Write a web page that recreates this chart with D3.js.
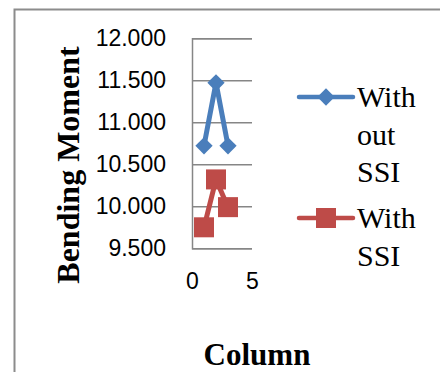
<!DOCTYPE html>
<html>
<head>
<meta charset="utf-8">
<script src="https://cdn.jsdelivr.net/npm/d3@7"></script>
<style>
  html, body { margin: 0; padding: 0; background: #fff; }
  svg { display: block; }
</style>
</head>
<body>
<svg id="chart" width="440" height="372"></svg>
<script>
// Column positions and bending moments for both cases
const columns = [1, 2, 3];
const withoutSSI = [10.72, 11.47, 10.72];
const withSSI = [9.75, 10.32, 9.99];
const yTicks = [9.5, 10.0, 10.5, 11.0, 11.5, 12.0];
const xTicks = [0, 5];
const seriesNames = [["With", "out", "SSI"], ["With", "SSI"]];

const svg = d3.select("#chart");
const blue = "#4A7EBB", red = "#BE4B48", grid = "#868686";

// outer frame (top and left edges visible)
svg.append("path")
  .attr("d", "M14.5,372 L14.5,9.5 L440,9.5")
  .attr("fill", "none").attr("stroke", "#8c8c8c").attr("stroke-width", 2);

const plot = { left: 192, right: 252, top: 38.3, bottom: 248.3 };
const x = d3.scaleLinear().domain([0, 5]).range([plot.left, plot.right]);
const y = d3.scaleLinear().domain([9.5, 12]).range([plot.bottom, plot.top]);

// y axis with gridlines
const yAxis = svg.append("g")
  .attr("transform", `translate(${plot.left},0)`)
  .call(d3.axisLeft(y).tickValues(yTicks).tickFormat(d3.format(".3f"))
    .tickSize(-(plot.right - plot.left)).tickPadding(26));
yAxis.select(".domain").attr("stroke", grid).attr("stroke-width", 1.5);
yAxis.selectAll(".tick line").attr("stroke", grid).attr("stroke-width", 1.5);
yAxis.selectAll(".tick text")
  .attr("font-family", "'Liberation Sans', Arial, sans-serif")
  .attr("font-size", 23).attr("fill", "#000");

// x axis labels only
const xAxis = svg.append("g")
  .attr("transform", `translate(0,${plot.bottom})`)
  .call(d3.axisBottom(x).tickValues(xTicks).tickFormat(d3.format("d"))
    .tickSize(0).tickPadding(24));
xAxis.select(".domain").remove();
xAxis.selectAll(".tick text")
  .attr("font-family", "'Liberation Sans', Arial, sans-serif")
  .attr("font-size", 23).attr("fill", "#000");

const line = d3.line().x((d, i) => x(columns[i])).y(d => y(d));
const diamond = d3.symbol().type(d3.symbolDiamond2).size(190);

function drawSeries(vals, color, kind) {
  svg.append("path").datum(vals).attr("d", line)
    .attr("fill", "none").attr("stroke", color).attr("stroke-width", 5)
    .attr("stroke-linejoin", "round").attr("stroke-linecap", "round");
  const g = svg.append("g");
  vals.forEach((v, i) => {
    if (kind === "diamond") {
      g.append("path").attr("d", diamond)
        .attr("transform", `translate(${x(columns[i])},${y(v)})`)
        .attr("fill", color);
    } else {
      g.append("rect").attr("x", x(columns[i]) - 10).attr("y", y(v) - 10)
        .attr("width", 20).attr("height", 20).attr("fill", color);
    }
  });
}
drawSeries(withoutSSI, blue, "diamond");
drawSeries(withSSI, red, "square");

// axis titles
svg.append("text")
  .attr("transform", "translate(79,165) rotate(-90)")
  .attr("text-anchor", "middle")
  .attr("font-family", "'Liberation Serif', 'Times New Roman', serif")
  .attr("font-weight", "bold").attr("font-size", 32).text("Bending Moment");
svg.append("text")
  .attr("x", 257).attr("y", 365).attr("text-anchor", "middle")
  .attr("font-family", "'Liberation Serif', 'Times New Roman', serif")
  .attr("font-weight", "bold").attr("font-size", 31).text("Column");

// legend
const legend = [
  { names: seriesNames[0], color: blue, kind: "diamond", ly: 97, ty: 107 },
  { names: seriesNames[1], color: red, kind: "square", ly: 218, ty: 228 }
];
legend.forEach(item => {
  svg.append("line").attr("x1", 299).attr("x2", 353)
    .attr("y1", item.ly).attr("y2", item.ly)
    .attr("stroke", item.color).attr("stroke-width", 4.5).attr("stroke-linecap", "round");
  if (item.kind === "diamond") {
    svg.append("path").attr("d", diamond)
      .attr("transform", `translate(326,${item.ly})`).attr("fill", item.color);
  } else {
    svg.append("rect").attr("x", 316).attr("y", item.ly - 10)
      .attr("width", 20).attr("height", 20).attr("fill", item.color);
  }
  const t = svg.append("text")
    .attr("font-family", "'Liberation Serif', 'Times New Roman', serif")
    .attr("font-size", 30).attr("fill", "#000");
  item.names.forEach((n, i) => {
    t.append("tspan").attr("x", 357).attr("y", item.ty + i * 37.5).text(n);
  });
});
</script>
</body>
</html>
